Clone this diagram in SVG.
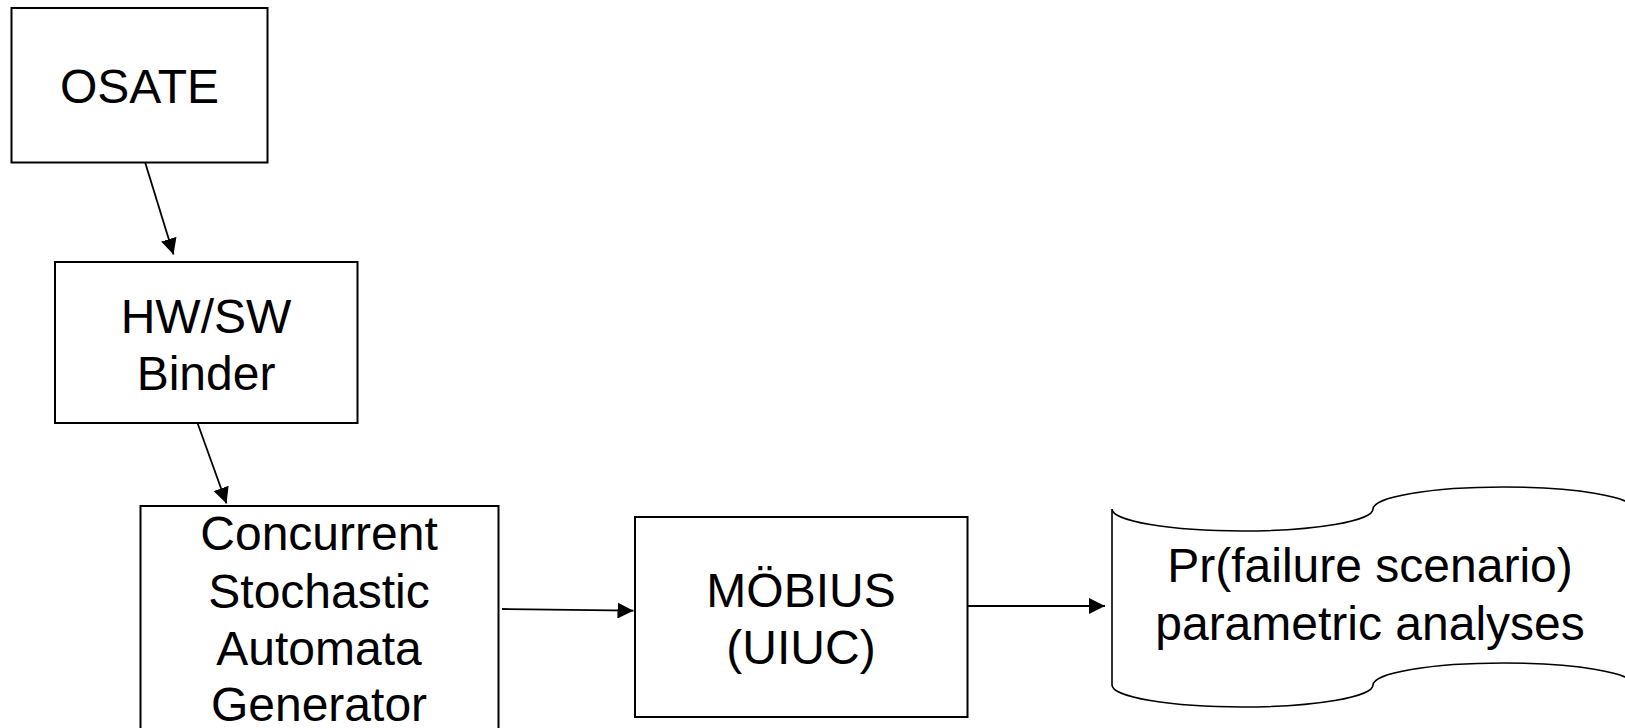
<svg xmlns="http://www.w3.org/2000/svg" width="1625" height="728" viewBox="0 0 1625 728">
  <style>
    .box { fill: #ffffff; stroke: #000000; stroke-width: 2; }
    .tape { fill: #ffffff; stroke: #000000; stroke-width: 1.6; }
    .label { font-family: "Liberation Sans", Arial, sans-serif; font-size: 48px; fill: #000000; text-anchor: middle; }
    .edge { fill: none; stroke: #000000; stroke-width: 1.8; marker-end: url(#arrow); }
  </style>
  <defs>
    <marker id="arrow" markerUnits="userSpaceOnUse" markerWidth="16" markerHeight="16" viewBox="0 0 16 16" refX="16" refY="8" orient="auto">
      <path d="M0,0 L16,8 L0,16 Z" fill="#000000"/>
    </marker>
  </defs>
  <rect x="0" y="0" width="1625" height="728" fill="#ffffff"/>

  <!-- connectors -->
  <g id="connectors">
    <line class="edge" x1="145" y1="162" x2="173.5" y2="254.5"/>
    <line class="edge" x1="197.5" y1="423" x2="226.5" y2="503.5"/>
    <line class="edge" x1="502" y1="609" x2="633.5" y2="610.7"/>
    <line class="edge" x1="968" y1="606" x2="1105" y2="606"/>
  </g>

  <!-- OSATE -->
  <g id="osate">
    <rect class="box" x="11.5" y="8" width="256" height="154.5"/>
    <text class="label" x="139.5" y="103">OSATE</text>
  </g>

  <!-- HW/SW Binder -->
  <g id="binder">
    <rect class="box" x="55" y="262" width="302.5" height="161"/>
    <text class="label" x="206" y="333">HW/SW</text>
    <text class="label" x="206" y="390">Binder</text>
  </g>

  <!-- Concurrent Stochastic Automata Generator (runs off the bottom edge) -->
  <g id="generator">
    <rect class="box" x="140.5" y="506" width="358" height="240"/>
    <text class="label" x="319" y="550">Concurrent</text>
    <text class="label" x="319" y="608">Stochastic</text>
    <text class="label" x="319" y="665">Automata</text>
    <text class="label" x="319" y="721">Generator</text>
  </g>

  <!-- MÖBIUS -->
  <g id="mobius">
    <rect class="box" x="635" y="517" width="332.5" height="200"/>
    <text class="label" x="801" y="606.5">MÖBIUS</text>
    <text class="label" x="801" y="663.5">(UIUC)</text>
  </g>

  <!-- punched-tape output shape (right side runs past the edge) -->
  <g id="results">
    <path class="tape" d="M1112,509 A130.5,22 0 0 0 1373,509 A130.5,22 0 0 1 1634,509 L1634,685 A130.5,22 0 0 0 1373,685 A130.5,22 0 0 1 1112,685 Z"/>
    <text class="label" x="1370" y="582">Pr(failure scenario)</text>
    <text class="label" x="1370" y="640">parametric analyses</text>
  </g>
</svg>
